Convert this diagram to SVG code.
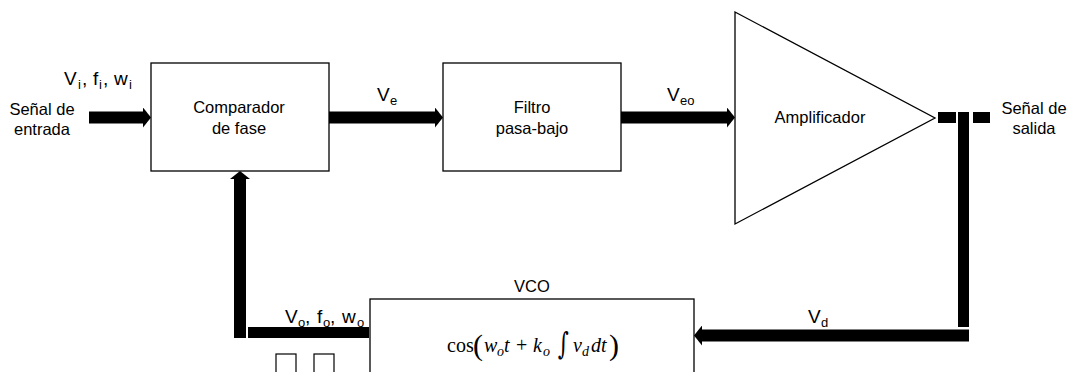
<svg xmlns="http://www.w3.org/2000/svg" width="1074" height="372" viewBox="0 0 1074 372">
<style>
.box{fill:#fff;stroke:#000;stroke-width:1.3}
.t{font-family:"Liberation Sans",Arial,sans-serif;font-size:16.5px;fill:#000}
.lbl{font-family:"Liberation Sans",Arial,sans-serif;font-size:19px;fill:#000}
.sub{font-size:13px}
.shaft{stroke:#000;stroke-width:12;fill:none}
.bar{fill:#000}
.m{font-family:"Liberation Serif","Times New Roman",serif;font-size:20px;fill:#000}
.mi{font-style:italic}
.ms{font-size:14px;font-style:italic}
.par{font-size:30px}
</style>
<defs>
<marker id="ah" viewBox="0 0 8 20" refX="0" refY="10" markerWidth="8" markerHeight="20" markerUnits="userSpaceOnUse" orient="auto">
<path d="M0,0 L8,10 L0,20 Z" fill="#000"/>
</marker>
</defs>
<rect width="1074" height="372" fill="#fff"/>

<g id="input-label">
<text class="t" x="42" y="115" text-anchor="middle">Señal de</text>
<text class="t" x="42" y="135" text-anchor="middle">entrada</text>
<text class="lbl" y="85"><tspan x="64">V</tspan><tspan class="sub" x="78" y="89">i</tspan><tspan x="82" y="85">,</tspan><tspan x="93">f</tspan><tspan class="sub" x="99" y="89">i</tspan><tspan x="103" y="85">,</tspan><tspan x="114">w</tspan><tspan class="sub" x="129" y="89">i</tspan></text>
</g>

<g id="comparador">
<rect class="box" x="151" y="63" width="178" height="108"/>
<text class="t" x="239" y="113" text-anchor="middle">Comparador</text>
<text class="t" x="239" y="134" text-anchor="middle">de fase</text>
</g>

<g id="filtro">
<rect class="box" x="443" y="63" width="178" height="108"/>
<text class="t" x="532" y="113" text-anchor="middle">Filtro</text>
<text class="t" x="532" y="134" text-anchor="middle">pasa-bajo</text>
</g>

<g id="amplificador">
<polygon class="box" points="735,12 935,118 735,224"/>
<text class="t" x="820" y="123" text-anchor="middle">Amplificador</text>
</g>

<g id="output-label">
<text class="t" x="1034" y="114" text-anchor="middle">Señal de</text>
<text class="t" x="1034" y="134" text-anchor="middle">salida</text>
</g>

<g id="vco">
<text class="t" x="532" y="292" text-anchor="middle">VCO</text>
<rect class="box" x="370" y="299" width="324" height="80"/>
<text class="m" y="352"><tspan x="447">cos</tspan><tspan class="par" x="473" y="355">(</tspan><tspan class="mi" x="484" y="352">w</tspan><tspan class="ms" x="497" y="356">o</tspan><tspan class="mi" x="504" y="352">t</tspan><tspan x="516">+</tspan><tspan class="mi" x="533">k</tspan><tspan class="ms" x="543" y="356">o</tspan><tspan class="mi" x="573" y="352">v</tspan><tspan class="ms" x="582" y="356">d</tspan><tspan class="mi" x="591" y="352">dt</tspan><tspan class="par" x="609" y="355">)</tspan></text>
<text transform="translate(558,354) scale(1,1.45)" font-family="'DejaVu Serif',serif" font-size="21" font-style="italic">∫</text>
<rect x="276" y="354" width="20" height="24" fill="none" stroke="#000" stroke-width="1.2"/>
<rect x="314" y="354" width="20" height="24" fill="none" stroke="#000" stroke-width="1.2"/>
</g>

<g id="connectors">
<line class="shaft" x1="89" y1="117.5" x2="143" y2="117.5" marker-end="url(#ah)"/>
<line class="shaft" x1="329" y1="117.5" x2="435" y2="117.5" marker-end="url(#ah)"/>
<text class="lbl" y="101"><tspan x="377">V</tspan><tspan class="sub" x="390" y="105">e</tspan></text>
<line class="shaft" x1="621" y1="117.5" x2="727" y2="117.5" marker-end="url(#ah)"/>
<text class="lbl" y="101"><tspan x="667">V</tspan><tspan class="sub" x="680" y="105">eo</tspan></text>
<rect class="bar" x="938" y="112" width="18" height="11"/>
<rect class="bar" x="973" y="112" width="17" height="11"/>
<rect class="bar" x="958" y="112" width="11" height="215"/>
<line class="shaft" x1="969" y1="335.5" x2="702" y2="335.5" marker-end="url(#ah)"/>
<text class="lbl" y="323"><tspan x="808">V</tspan><tspan class="sub" x="821" y="327">d</tspan></text>
<rect class="bar" x="248" y="327" width="121" height="11"/>
<line class="shaft" x1="240" y1="338" x2="240" y2="179" stroke-width="13" marker-end="url(#ah)"/>
<text class="lbl" y="323"><tspan x="285">V</tspan><tspan class="sub" x="298" y="327">o</tspan><tspan x="305" y="323">,</tspan><tspan x="317">f</tspan><tspan class="sub" x="323" y="327">o</tspan><tspan x="330" y="323">,</tspan><tspan x="342">w</tspan><tspan class="sub" x="357" y="327">o</tspan></text>
</g>
</svg>
